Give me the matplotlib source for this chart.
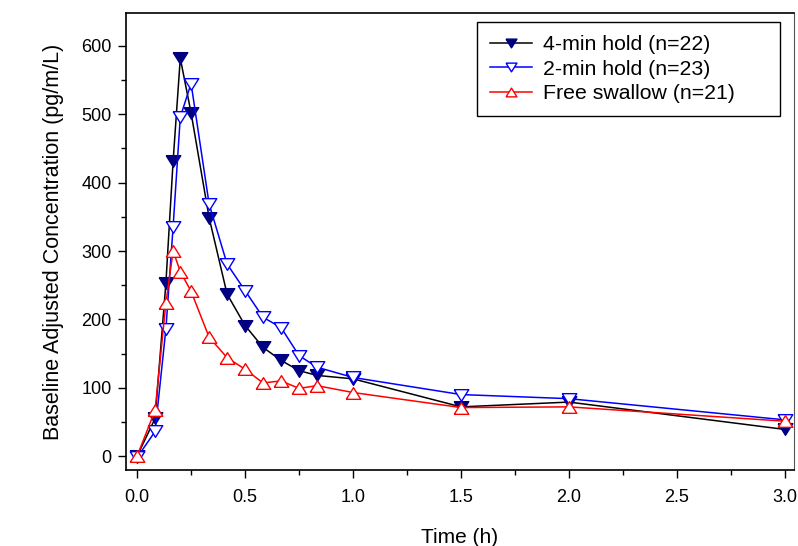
import matplotlib.pyplot as plt
from matplotlib.ticker import MultipleLocator, FormatStrFormatter

plt.rcParams['font.family'] = ['Liberation Sans', 'DejaVu Sans']

# sampling times (h)
time_h = [0, 5/60, 8/60, 10/60, 12/60, 15/60, 20/60, 25/60, 30/60, 35/60,
          40/60, 45/60, 50/60, 1.0, 1.5, 2.0, 3.0]

hold_4min = [0, 55, 253, 431, 582, 502, 349, 237, 191, 159,
             140, 125, 118, 113, 72, 79, 39]
hold_2min = [-2, 36, 186, 335, 496, 545, 369, 281, 242, 203,
             188, 147, 130, 115, 90, 84, 53]
free_swallow = [0, 67, 224, 300, 270, 241, 174, 144, 127, 107,
                110, 99, 103, 93, 71, 72, 51]

labels = ["4-min hold (n=22)", "2-min hold (n=23)", "Free swallow (n=21)"]

# flattened triangles
tri_down = [(-1, 0.8), (1, 0.8), (0, -0.8), (-1, 0.8)]
tri_up = [(-1, -0.8), (1, -0.8), (0, 0.8), (-1, -0.8)]

fig = plt.figure(figsize=(7.98, 5.46), dpi=100)
ax = fig.add_axes([0.158, 0.139, 0.837, 0.837])

ax.plot(time_h, hold_4min, color='black', lw=1.1, marker=tri_down, ms=10.5,
        mfc='#000080', mec='#000080', mew=1.0, label=labels[0])
ax.plot(time_h, hold_2min, color='#0000FF', lw=1.1, marker=tri_down, ms=10.5,
        mfc='white', mec='#0000FF', mew=1.0, label=labels[1])
ax.plot(time_h, free_swallow, color='#FF0000', lw=1.1, marker=tri_up, ms=10.5,
        mfc='white', mec='#FF0000', mew=1.0, label=labels[2])

ax.set_xlim(-0.051, 3.042)
ax.set_ylim(-20.5, 648)
ax.xaxis.set_major_locator(MultipleLocator(0.5))
ax.xaxis.set_minor_locator(MultipleLocator(0.25))
ax.xaxis.set_major_formatter(FormatStrFormatter('%.1f'))
ax.yaxis.set_major_locator(MultipleLocator(100))
ax.yaxis.set_minor_locator(MultipleLocator(50))
ax.tick_params(which='major', direction='out', length=5.5, width=1, labelsize=13, pad=5)
ax.tick_params(which='minor', direction='out', length=3.5, width=1)
ax.tick_params(axis='x', pad=8)

for side in ['left', 'bottom', 'top']:
    ax.spines[side].set_linewidth(1.2)
ax.spines['right'].set_linewidth(0.8)
ax.spines['right'].set_color('#555555')

ax.set_xlabel("Time (h)", fontsize=15, labelpad=16)
ax.set_ylabel("Baseline Adjusted Concentration (pg/m/L)", fontsize=15.5, labelpad=12)

# legend box spans a fixed width with empty room right of the text
leg = ax.legend(loc='upper left', bbox_to_anchor=(0.5254, 0.78, 0.4536, 0.2),
                mode='expand', fontsize=15.3,
                frameon=True, fancybox=False, edgecolor='black', framealpha=1,
                handlelength=2.0, handletextpad=0.5, labelspacing=0.27,
                borderpad=0.6, markerscale=0.75, borderaxespad=0)
leg.get_frame().set_linewidth(1.0)

fig.savefig("out.png", dpi=100)
